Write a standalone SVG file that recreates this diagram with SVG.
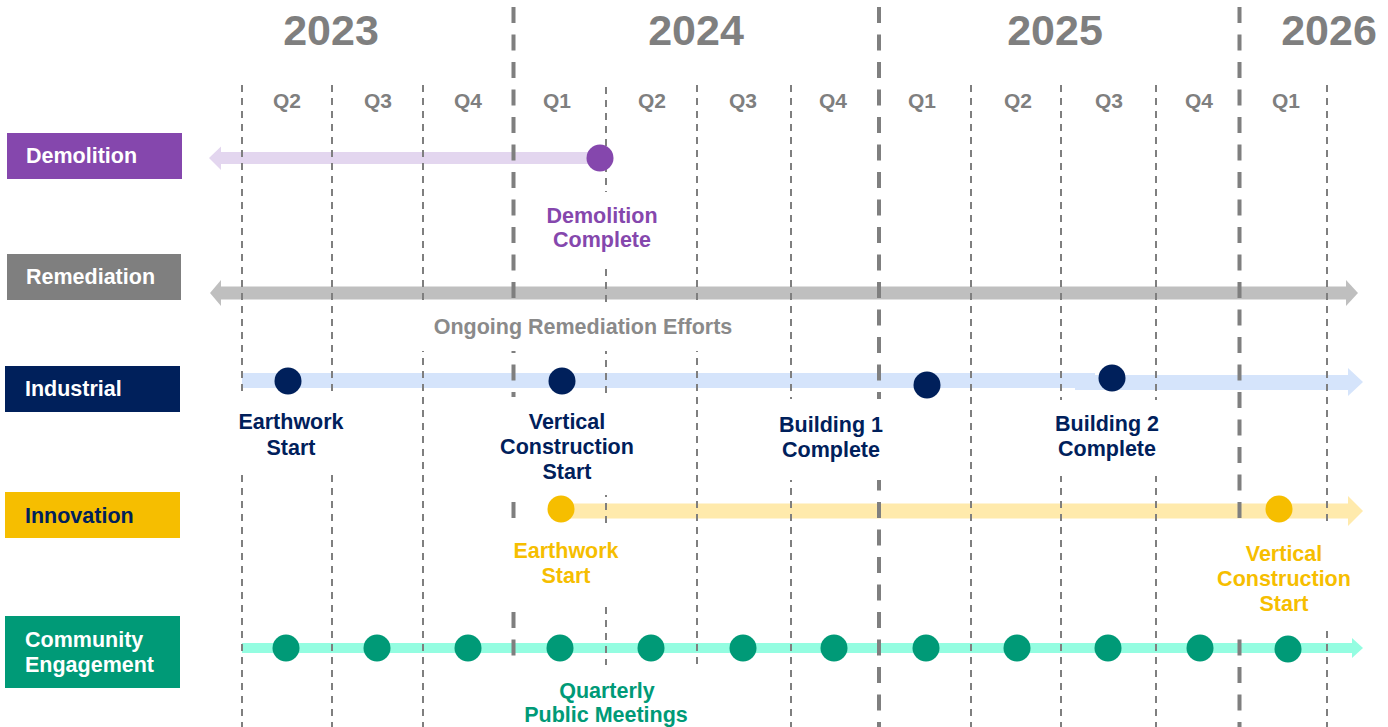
<svg xmlns="http://www.w3.org/2000/svg" width="1388" height="727" viewBox="0 0 1388 727">
<style>
text{font-family:"Liberation Sans",Arial,Helvetica,sans-serif;font-weight:bold}
.yr{font-size:43px;fill:#7f7f7f;text-anchor:middle}
.q{font-size:21px;fill:#7f7f7f;text-anchor:middle}
.lane{font-size:21.5px;fill:#ffffff}
.ms{font-size:21.5px;text-anchor:middle}
.thin{stroke:#7f7f7f;stroke-width:2;stroke-dasharray:7 6;fill:none}
.thick{stroke:#7f7f7f;stroke-width:4;stroke-dasharray:16 11.5;fill:none}
.mask{fill:#ffffff}
.dot{stroke:none}
</style>
<rect width="1388" height="727" fill="#ffffff"/>

<g id="bars">
  <g id="bar-demolition" fill="#e3d6ef">
    <rect x="220" y="152" width="380" height="12"/>
    <polygon points="221,146.5 209,158 221,170"/>
  </g>
  <g id="bar-remediation" fill="#bfbfbf">
    <rect x="220" y="286.5" width="1127" height="13"/>
    <polygon points="221,280 210,293 221,306"/>
    <polygon points="1346,280 1358,293 1346,306"/>
  </g>
  <g id="bar-industrial" fill="#d5e4fb">
    <rect x="242" y="373" width="853" height="15"/>
    <rect x="1075" y="375" width="275" height="15"/>
    <polygon points="1348,368 1363,382 1348,396"/>
  </g>
  <g id="bar-innovation" fill="#ffeaac">
    <rect x="562" y="503.5" width="787" height="15"/>
    <polygon points="1348,496 1363,511 1348,526"/>
  </g>
  <g id="bar-community" fill="#94fde1">
    <rect x="242" y="643" width="1111" height="10"/>
    <polygon points="1352,638 1363,648 1352,658"/>
  </g>
</g>

<g id="grid">
  <line class="thin" x1="242" y1="85" x2="242" y2="727"/>
  <line class="thin" x1="332" y1="85" x2="332" y2="727"/>
  <line class="thin" x1="423" y1="85" x2="423" y2="727"/>
  <line class="thin" x1="606" y1="87" x2="606" y2="727"/>
  <line class="thin" x1="697" y1="85" x2="697" y2="727"/>
  <line class="thin" x1="791" y1="85" x2="791" y2="727"/>
  <line class="thin" x1="971" y1="85" x2="971" y2="727"/>
  <line class="thin" x1="1061" y1="85" x2="1061" y2="727"/>
  <line class="thin" x1="1156" y1="85" x2="1156" y2="727"/>
  <line class="thin" x1="1327" y1="85" x2="1327" y2="727"/>
  <line class="thick" x1="513.5" y1="7" x2="513.5" y2="727"/>
  <line class="thick" x1="879" y1="7" x2="879" y2="727"/>
  <line class="thick" x1="1239.5" y1="7" x2="1239.5" y2="727"/>
</g>

<g id="label-masks">
  <rect class="mask" x="540" y="192" width="125" height="76"/>
  <rect class="mask" x="418" y="303" width="327" height="48"/>
  <rect class="mask" x="236" y="397" width="110" height="73"/>
  <rect class="mask" x="498" y="397" width="138" height="98"/>
  <rect class="mask" x="775" y="399" width="115" height="81"/>
  <rect class="mask" x="1050" y="400" width="115" height="76"/>
  <rect class="mask" x="505" y="527" width="125" height="77"/>
  <rect class="mask" x="1212" y="527" width="146" height="103"/>
  <rect class="mask" x="505" y="665" width="205" height="62"/>
</g>

<g id="years">
  <text class="yr" x="331" y="45">2023</text>
  <text class="yr" x="696" y="45">2024</text>
  <text class="yr" x="1055" y="45">2025</text>
  <text class="yr" x="1329" y="45">2026</text>
</g>

<g id="quarters">
  <text class="q" x="287" y="108">Q2</text>
  <text class="q" x="378" y="108">Q3</text>
  <text class="q" x="468" y="108">Q4</text>
  <text class="q" x="557" y="108">Q1</text>
  <text class="q" x="652" y="108">Q2</text>
  <text class="q" x="743" y="108">Q3</text>
  <text class="q" x="833" y="108">Q4</text>
  <text class="q" x="922" y="108">Q1</text>
  <text class="q" x="1018" y="108">Q2</text>
  <text class="q" x="1109" y="108">Q3</text>
  <text class="q" x="1199" y="108">Q4</text>
  <text class="q" x="1286" y="108">Q1</text>
</g>

<g id="lane-demolition">
  <rect x="7" y="133" width="175" height="46" fill="#8547ad"/>
  <text class="lane" x="26" y="163">Demolition</text>
</g>
<g id="lane-remediation">
  <rect x="7" y="254" width="174" height="46" fill="#7f7f7f"/>
  <text class="lane" x="26" y="284">Remediation</text>
</g>
<g id="lane-industrial">
  <rect x="5" y="366" width="175" height="46" fill="#00205b"/>
  <text class="lane" x="25" y="396">Industrial</text>
</g>
<g id="lane-innovation">
  <rect x="5" y="492" width="175" height="46" fill="#f6be00"/>
  <text class="lane" x="25" y="523" style="fill:#00205b">Innovation</text>
</g>
<g id="lane-community">
  <rect x="5" y="616" width="175" height="72" fill="#009a77"/>
  <text class="lane" x="25" y="647">Community</text>
  <text class="lane" x="25" y="672">Engagement</text>
</g>

<g id="ms-demolition-complete">
  <circle class="dot" cx="600" cy="158" r="13.5" fill="#8547ad"/>
  <text class="ms" fill="#8547ad" x="602" y="223">Demolition</text>
  <text class="ms" fill="#8547ad" x="602" y="247">Complete</text>
</g>
<g id="ms-ongoing-remediation">
  <text class="ms" fill="#8a8a8a" x="583" y="334">Ongoing Remediation Efforts</text>
</g>
<g id="ms-industrial-earthwork">
  <circle class="dot" cx="288" cy="381" r="13.5" fill="#00205b"/>
  <text class="ms" fill="#00205b" x="291" y="429">Earthwork</text>
  <text class="ms" fill="#00205b" x="291" y="455">Start</text>
</g>
<g id="ms-industrial-vertical">
  <circle class="dot" cx="562" cy="381" r="13.5" fill="#00205b"/>
  <text class="ms" fill="#00205b" x="567" y="429">Vertical</text>
  <text class="ms" fill="#00205b" x="567" y="454">Construction</text>
  <text class="ms" fill="#00205b" x="567" y="479">Start</text>
</g>
<g id="ms-building-1">
  <circle class="dot" cx="927" cy="385" r="13.5" fill="#00205b"/>
  <text class="ms" fill="#00205b" x="831" y="432">Building 1</text>
  <text class="ms" fill="#00205b" x="831" y="457">Complete</text>
</g>
<g id="ms-building-2">
  <circle class="dot" cx="1112" cy="378" r="13.5" fill="#00205b"/>
  <text class="ms" fill="#00205b" x="1107" y="431">Building 2</text>
  <text class="ms" fill="#00205b" x="1107" y="456">Complete</text>
</g>
<g id="ms-innovation-earthwork">
  <circle class="dot" cx="561" cy="509" r="13.5" fill="#f6be00"/>
  <text class="ms" fill="#f6be00" x="566" y="558">Earthwork</text>
  <text class="ms" fill="#f6be00" x="566" y="583">Start</text>
</g>
<g id="ms-innovation-vertical">
  <circle class="dot" cx="1279" cy="509" r="13.5" fill="#f6be00"/>
  <text class="ms" fill="#f6be00" x="1284" y="561">Vertical</text>
  <text class="ms" fill="#f6be00" x="1284" y="586">Construction</text>
  <text class="ms" fill="#f6be00" x="1284" y="611">Start</text>
</g>
<g id="ms-community-meetings" fill="#009a77">
  <circle cx="286" cy="648" r="13.5"/>
  <circle cx="377" cy="648" r="13.5"/>
  <circle cx="468" cy="648" r="13.5"/>
  <circle cx="560" cy="648" r="13.5"/>
  <circle cx="651" cy="648" r="13.5"/>
  <circle cx="743" cy="648" r="13.5"/>
  <circle cx="834" cy="648" r="13.5"/>
  <circle cx="926" cy="648" r="13.5"/>
  <circle cx="1017" cy="648" r="13.5"/>
  <circle cx="1108" cy="648" r="13.5"/>
  <circle cx="1200" cy="648" r="13.5"/>
  <circle cx="1288" cy="649" r="13.5"/>
  <text class="ms" x="607" y="698">Quarterly</text>
  <text class="ms" x="606" y="722">Public Meetings</text>
</g>
</svg>
